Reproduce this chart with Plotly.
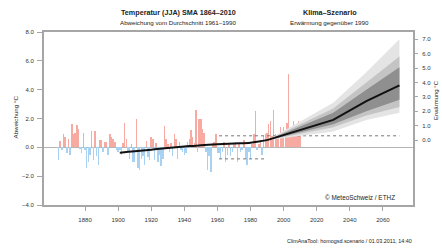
import plotly.graph_objects as go

# ---------------- data ----------------
years = list(range(1864, 2011))
anomaly = [
    -0.9, 0.45, -0.2, 0.9, 0.7, -0.4, 0.6, -0.5, 1.65, 0.9,   # 1864-1873
    1.0, 1.55, 1.3, -0.1, -0.4, 1.0, -0.2, -1.4, -1.0, -0.5,  # 1874-1883
    1.1, -0.9, 1.1, -0.6, -1.2, 0.5, 0.5, -0.3, 0.4, 0.4,     # 1884-1893
    -0.5, 0.9, 0.75, 0.6, 0.4, -0.2, -0.3, -0.2, -0.5, 0.3,   # 1894-1903
    1.7, 0.6, -0.3, -0.8, 0.2, -1.0, -1.0, 2.0, -1.4, -1.6,   # 1904-1913
    -0.8, -0.6, -1.2, 0.45, -0.7, -0.9, 0.7, 0.6, -0.9, 0.3,  # 1914-1923
    -1.0, -0.5, -1.3, -0.8, 1.5, 0.6, 0.2, -0.3, 0.3, -0.6,   # 1924-1933
    0.9, 0.6, -0.8, 0.4, -0.2, -0.3, -0.5, -0.4, 0.4, 0.6,    # 1934-1943
    1.2, 0.7, 0.3, 2.6, -0.3, 2.0, 2.0, 1.3, 1.0, -0.3,       # 1944-1953
    -1.6, -0.6, -1.7, 0.3, 0.4, 0.9, -0.4, -0.4, -0.8, -0.3,  # 1954-1963
    0.4, -1.0, -0.5, 0.2, -0.6, -0.3, 0.2, 0.4, -1.0, 0.3,    # 1964-1973
    -0.3, -0.2, 0.5, -0.8, -1.2, -0.3, -0.8, 0.2, 0.9, 2.5,   # 1974-1983
    -0.2, 0.2, 0.5, -0.5, 0.8, 0.9, 1.0, 1.6, 1.8, 0.8,       # 1984-1993
    2.6, 0.9, 0.8, 0.9, 1.4, 0.8, 1.4, 1.2, 1.7, 5.1,         # 1994-2003
    1.1, 1.3, 1.8, 1.0, 0.9, 1.8, 1.0,                        # 2004-2010
]

smooth_years = [1901, 1910, 1920, 1930, 1940, 1950, 1960, 1970, 1980, 1985, 1990]
smooth_vals = [-0.37, -0.28, -0.16, -0.05, 0.05, 0.15, 0.22, 0.27, 0.32, 0.4, 0.5]

# scenario (warming relative to 1990, right axis)
scen_years = [1990, 2030, 2050, 2070]
scen_median = [0.0, 1.4, 2.7, 3.8]
outer_lo = [0.0, 0.6, 1.4, 1.9]
outer_hi = [0.0, 2.6, 4.7, 7.0]
mid_lo = [0.0, 0.9, 1.7, 2.3]
mid_hi = [0.0, 2.2, 4.0, 5.8]
inner_lo = [0.0, 1.1, 2.0, 2.8]
inner_hi = [0.0, 1.9, 3.5, 5.05]

sd_upper_years = [1961, 2070]
sd_upper = [0.8, 0.8]
sd_lower_years = [1961, 1990]
sd_lower = [-0.8, -0.8]

xticks = [1880, 1900, 1920, 1940, 1960, 1980, 2000, 2020, 2040, 2060]
yticks_left = [-4, -2, 0, 2, 4, 6, 8]
yticks_right = [0, 1, 2, 3, 4, 5, 6, 7]
right_offset = 0.5  # value of 1990 on left scale

FONT = "Liberation Sans, Arial, sans-serif"
RED = "#f7aaa2"
BLUE = "#a9d1f1"
AX = "#a6a6a6"

fig = go.Figure()

fig.add_trace(go.Bar(
    x=years, y=anomaly, width=0.9,
    marker=dict(color=[RED if v >= 0 else BLUE for v in anomaly], line=dict(width=0)),
    hoverinfo="skip", showlegend=False,
))

# dotted +/- sd lines
fig.add_trace(go.Scatter(x=sd_upper_years, y=sd_upper, mode="lines",
                         line=dict(color="#777777", width=1, dash="dot"), showlegend=False))
fig.add_trace(go.Scatter(x=sd_lower_years, y=sd_lower, mode="lines",
                         line=dict(color="#777777", width=1, dash="dot"), showlegend=False))

def band(lo, hi, color):
    fig.add_trace(go.Scatter(
        x=scen_years + scen_years[::-1], y=hi + lo[::-1],
        fill="toself", fillcolor=color, mode="lines", line=dict(width=0),
        yaxis="y2", showlegend=False, hoverinfo="skip",
    ))

band(outer_lo, outer_hi, "#e4e4e4")
band(mid_lo, mid_hi, "#c4c4c4")
band(inner_lo, inner_hi, "#8f8f8f")

fig.add_trace(go.Scatter(x=scen_years, y=scen_median, mode="lines", yaxis="y2",
                         line=dict(color="#111111", width=2), showlegend=False))
fig.add_trace(go.Scatter(x=smooth_years, y=smooth_vals, mode="lines",
                         line=dict(color="#111111", width=2, shape="spline"), showlegend=False))

L, R, T, B = 44, 29, 32, 43
PW, PH = 442 - L - R, 248 - T - B

def px(x):
    return (x - L) / PW

def py(y):
    return (248 - B - y) / PH

ann = []
def text(s, x, y, size, bold=False, xanchor="center", angle=0, color="#222222"):
    ann.append(dict(text=f"<b>{s}</b>" if bold else s, x=px(x), y=py(y), xref="paper", yref="paper",
                    xanchor=xanchor, yanchor="middle", showarrow=False, textangle=angle,
                    borderpad=0,
                    font=dict(family=FONT, size=size, color=color)))

text("Temperatur (JJA) SMA 1864–2010", 178.5, 12, 7.2, bold=True)
text("Abweichung vom Durchschnitt 1961–1990", 178, 22.5, 6.2)
text("Klima–Szenario", 330, 12, 7.2, bold=True)
text("Erwärmung gegenüber 1990", 329, 22.5, 6.2)
text("Abweichung °C", 15, 117.5, 6.2, angle=-90)
text("Erwärmung °C", 436, 100, 6.0, angle=-90)
text("© MeteoSchweiz / ETHZ", 396, 197, 6.4, xanchor="right")
text("ClimAnaTool: homogsd.scenario / 01.03.2011, 14:40", 413, 241, 5.4, xanchor="right")

fig.update_layout(
    width=442, height=248,
    margin=dict(l=L, r=R, t=T, b=B, pad=0),
    paper_bgcolor="white", plot_bgcolor="white",
    bargap=0, barmode="overlay",
    font=dict(family=FONT, size=6, color="#333333"),
    annotations=ann,
    xaxis=dict(range=[1855.2, 2078.2], tickvals=xticks, ticks="outside", ticklen=4,
               tickcolor=AX, tickwidth=1, showgrid=False, zeroline=False,
               showline=True, linecolor=AX, linewidth=2, mirror=True,
               tickfont=dict(size=6, color="#333333"), ticklabelstandoff=4),
    yaxis=dict(range=[-4, 8], tickvals=yticks_left, tickformat=".1f", ticks="outside",
               ticklen=5, tickcolor=AX, showgrid=False, zeroline=True,
               zerolinecolor="#b5b5b5", zerolinewidth=1.5,
               showline=True, linecolor=AX, linewidth=2, mirror=True,
               tickfont=dict(size=6, color="#333333"), ticklabelstandoff=2),
    yaxis2=dict(range=[-4 - right_offset, 8 - right_offset], overlaying="y", side="right",
                tickvals=yticks_right, ticktext=[f"{v:.1f}" for v in yticks_right],
                ticks="outside", ticklen=4,
                tickcolor=AX, showgrid=False, zeroline=False, showline=False,
                tickfont=dict(size=6, color="#333333"), ticklabelstandoff=3),
)

fig.write_html(
    "out.html",
    config={"displayModeBar": False, "staticPlot": True},
    post_script="document.body.style.margin='0';document.body.style.padding='0';document.body.style.overflow='hidden';",
)
